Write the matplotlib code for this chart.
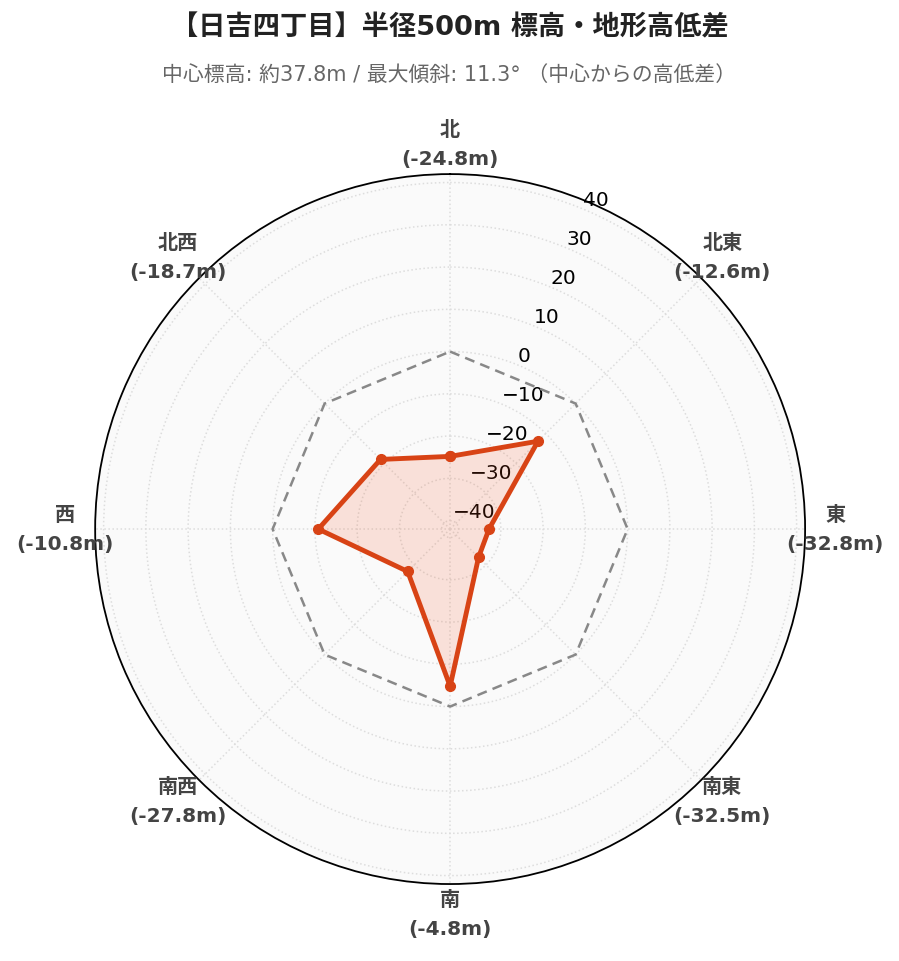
import numpy as np
import matplotlib
matplotlib.use("Agg")
import matplotlib.pyplot as plt

plt.rcParams['font.family'] = ['DejaVu Sans', 'Noto Sans CJK JP']

# directions (clockwise from north) and elevation difference from centre (m)
directions = ["北", "北東", "東", "南東", "南", "南西", "西", "北西"]
diffs = [-24.8, -12.6, -32.8, -32.5, -4.8, -27.8, -10.8, -18.7]
reference = [0, 0, 0, 0, 0, 0, 0, 0]
r_ticks = [-40, -30, -20, -10, 0, 10, 20, 30, 40]
r_range = (-42, 42)

title = "【日吉四丁目】半径500m 標高・地形高低差"
subtitle = "中心標高: 約37.8m / 最大傾斜: 11.3° （中心からの高低差）"

line_color = "#d84315"

theta = np.deg2rad(np.arange(len(directions)) * 360 / len(directions))
theta_c = np.append(theta, theta[0])
diffs_c = np.append(diffs, diffs[0])
ref_c = np.append(reference, reference[0])

fig = plt.figure(figsize=(8.99, 9.62), dpi=100)
ax = fig.add_axes([0.1057, 0.080, 0.79, 0.738], projection="polar")
ax.set_theta_zero_location("N")
ax.set_theta_direction(-1)
ax.set_facecolor("#fafafa")

# reference polygon (centre elevation)
ax.plot(theta_c, ref_c, color="#888888", lw=1.8, ls=(0, (4, 2.5)), zorder=3)

# elevation difference polygon
ax.fill(theta_c, diffs_c, color="#f4511e", alpha=0.15, lw=0, zorder=2)
ax.plot(theta_c, diffs_c, color=line_color, lw=3.5, marker="o", ms=7, zorder=4)

ax.set_ylim(*r_range)
ax.set_yticks(r_ticks)
ax.set_yticklabels([f"\u2212{abs(t)}" if t < 0 else str(t) for t in r_ticks],
                   fontsize=14.5)
ax.set_rlabel_position(22.5)
ax.set_xticks(theta)
ax.set_xticklabels([])
ax.grid(True, color="#dddddd", ls=":", lw=1.1)
ax.spines["polar"].set_color("black")
ax.spines["polar"].set_linewidth(1.3)

for t, name, v in zip(theta, directions, diffs):
    ax.text(t, 49.1, f"{name}\n({v:.1f}m)", ha="center", va="center",
            fontsize=14.5, fontweight="bold", color="#444444", linespacing=1.65,
            clip_on=False)

fig.text(0.5, 1 - 28 / 962, title, ha="center", va="center",
         fontsize=19.6, fontweight="bold", color="#222222")
fig.text(0.5, 1 - 75 / 962, subtitle, ha="center", va="center",
         fontsize=15, color="#666666")

fig.savefig("out.png", dpi=100)
